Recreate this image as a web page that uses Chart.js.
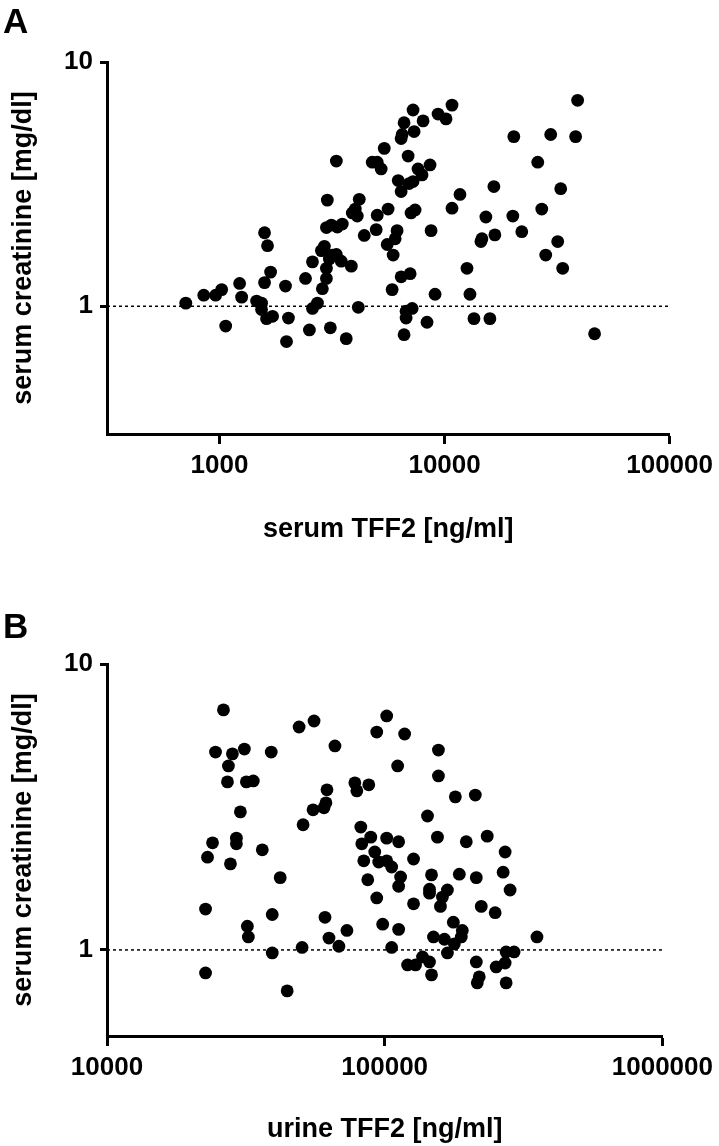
<!DOCTYPE html>
<html>
<head>
<meta charset="utf-8">
<script src="https://cdn.jsdelivr.net/npm/chart.js@4.4.0/dist/chart.umd.min.js"></script>
<style>
  body {
    margin: 0;
    background: #fff;
    width: 719px;
    height: 1146px;
    position: relative;
    overflow: hidden;
    font-family: "Liberation Sans", Arial, sans-serif;
  }
  canvas { position: absolute; left: 0; }
  .letter {
    position: absolute;
    left: 3px;
    font-weight: bold;
    font-size: 35px;
    line-height: 1;
    z-index: 2;
  }
</style>
</head>
<body>
<div class="letter" style="top: 3px">A</div>
<canvas id="chartA" style="top: 0" width="719" height="546"></canvas>
<div class="letter" style="top: 608px">B</div>
<canvas id="chartB" style="top: 565px" width="719" height="581"></canvas>

<script>
// panel A: serum TFF2 vs serum creatinine
var serumTffA = [
  708, 851, 961, 1022, 1228, 1254, 1065, 1461, 1537, 1537,
  1585, 1585, 1634, 1686, 1720, 1618, 1964, 2024, 1984, 2410,
  2588, 2508, 2723, 2588, 2864, 2985, 2985, 2836, 2924, 3076,
  3172, 3304, 3475, 2985, 3140, 3339, 3512, 3013, 3304, 3108,
  3656, 3850, 3890, 4093, 4178, 4010,
  4136, 4396, 4770, 5020, 5227, 4967, 5020, 5395, 5559, 5611,
  5848, 5909, 6033, 6152, 6223, 6412, 6412, 6479, 6412, 6607,
  6607, 6745, 6745, 6887, 6958, 7031, 7096, 7178, 7244, 7244,
  7322, 7396, 7621, 7943, 8026, 8356, 8619, 8710, 9072, 9354,
  10148, 10790, 10790, 11706, 12578, 12966, 13510, 14505, 14655, 15260,
  15900, 16560, 16730, 20100, 20310, 22030, 25940, 27030, 28150, 29620,
  31820, 32810, 33480, 38220, 39010, 46400,
];
var creatA = [
  1.03, 1.11, 1.11, 1.17, 1.24, 1.09, 0.83, 1.05, 1.03, 0.97,
  1.25, 2.0, 1.77, 1.38, 0.91, 0.89, 1.21, 0.895, 0.717, 1.3,
  1.52, 0.8, 1.03, 0.98, 1.18, 1.3, 1.43, 1.69, 1.76, 1.56,
  1.62, 1.63, 1.53, 2.1, 2.15, 2.11, 2.17, 2.72, 3.93, 0.816,
  0.737, 1.46, 2.41, 2.34, 2.74, 2.5,
  0.99, 1.95, 3.89, 3.89, 3.65, 2.06, 2.36, 4.43, 1.79, 2.5,
  1.17, 1.62, 1.89, 2.04, 3.27, 2.95, 1.32, 5.05, 4.86, 5.64,
  0.765, 0.955, 0.895, 4.12, 3.18, 1.36, 2.41, 0.98, 6.36, 3.24,
  5.19, 2.48, 3.65, 3.45, 5.74, 0.86, 3.79, 2.04, 1.12, 6.12,
  5.85, 6.66, 2.52, 2.87, 1.43, 1.12, 0.89, 1.84, 1.89, 2.32,
  0.89, 3.09, 1.96, 2.34, 4.95, 2.02, 3.89, 2.5, 1.62, 5.05,
  1.84, 3.03, 1.43, 4.95, 6.97, 0.772,
];
var xTicksA = [1000, 10000, 100000];

// panel B: urine TFF2 vs serum creatinine
var urineTffB = [
  26270, 49180, 55670, 66200, 24590, 28290, 31240, 39030, 27370, 27150,
  31760, 33640, 61960, 78070, 79360, 55210, 60440, 61440, 30220, 50830,
  23990, 29240, 29240, 36240, 23010, 27830, 42050, 101670, 93620, 117970,
  156150, 111330, 156150, 87630, 179640, 211990, 142610, 82030, 89080, 101670,
  112260, 154880, 196680, 233980, 82710, 92090, 95170, 101670, 105950, 84080,
  127030, 271460, 86900, 114110, 112260, 147430, 185650, 213730, 267000, 282880,
  145000, 145000, 168210, 161410, 158760, 93620, 127030, 222700, 249890, 73100,
  98360, 112260, 176690, 190310, 188740, 178160, 149860, 164100, 353430, 68410,
  105950, 168210, 136850, 145000, 120910, 129150, 213730, 273720, 292350, 251970,
  271460, 22640, 22640, 32020, 32280, 39360, 39360, 44550, 50410, 60950,
  63000, 147430, 219040, 215440, 273720,
];
var creatB = [
  6.91, 6.02, 6.32, 5.17, 4.92, 4.85, 5.04, 4.92, 4.4, 3.87,
  3.87, 3.9, 3.63, 3.84, 3.6, 3.09, 3.14, 3.27, 3.04, 2.74,
  2.37, 2.46, 2.35, 2.24, 2.11, 2.0, 1.79, 6.58, 5.78, 5.69,
  5.0, 4.4, 4.06, 3.78, 3.43, 3.48, 2.94, 2.69, 2.48, 2.46,
  2.39, 2.48, 2.39, 2.5, 2.35, 2.2, 2.03, 2.05, 1.95, 2.05,
  2.08, 2.2, 1.76, 1.8, 1.67, 1.83, 1.84, 1.79, 1.87, 1.62,
  1.63, 1.58, 1.62, 1.53, 1.42, 1.52, 1.45, 1.42, 1.35, 1.17,
  1.23, 1.18, 1.25, 1.17, 1.11, 1.05, 1.11, 1.09, 1.11, 1.03,
  1.02, 0.976, 0.945, 0.908, 0.886, 0.886, 0.908, 0.984, 0.984, 0.872,
  0.9, 1.39, 0.831, 1.21, 1.11, 1.33, 0.976, 0.719, 1.02, 1.3,
  1.1, 0.818, 0.805, 0.767, 0.767,
];
var xTicksB = [10000, 100000, 1000000];

// shared y axis ticks and the dotted reference at 1 mg/dl
var yTicks = [1, 10];
var refLevel = 1;

var fontFamily = "'Liberation Sans', Arial, sans-serif";
var tickFont = { family: fontFamily, size: 26, weight: "bold" };
var titleFont = { family: fontFamily, size: 27, weight: "bold" };

//to draw one scatter panel
const drawPanel = (id, xVals, yVals, lim, xTicks, xTitle, box) => {
  var points = xVals.map(function (x, i) {
    return { x: x, y: yVals[i] };
  });

  var ctx = document.getElementById(id).getContext("2d");

  var chart = new Chart(ctx, {
    type: "scatter",
    data: {
      datasets: [
        {
          type: "scatter",
          data: points,
          backgroundColor: "#000",
          borderWidth: 0,
          pointRadius: 6.4,
          order: 1,
        },
        {
          type: "line",
          data: [
            { x: lim.xMin, y: refLevel },
            { x: lim.xMax, y: refLevel },
          ],
          borderColor: "#000",
          borderWidth: 1.5,
          borderDash: [3, 3],
          pointRadius: 0,
          order: 2,
        },
      ],
    },
    options: {
      responsive: false,
      animation: false,
      devicePixelRatio: 1,
      layout: {
        padding: { top: box.top, right: box.right, left: 0, bottom: 0 },
      },
      plugins: {
        legend: { display: false },
        tooltip: { enabled: false },
      },
      scales: {
        x: {
          type: "logarithmic",
          position: "bottom",
          min: lim.xMin,
          max: lim.xMax,
          afterBuildTicks: (s) => {
            s.ticks = xTicks.map((v) => ({ value: v }));
          },
          afterFit: (s) => {
            s.height = box.xAxis;
          },
          ticks: {
            font: tickFont,
            color: "#000",
            padding: 6,
            autoSkip: false,
            maxRotation: 0,
            callback: (v) => String(v),
          },
          grid: {
            drawOnChartArea: false,
            drawTicks: true,
            tickLength: 10,
            tickWidth: 3,
            tickColor: "#000",
          },
          border: { display: true, width: 3, color: "#000" },
          title: {
            display: true,
            text: xTitle,
            font: titleFont,
            color: "#000",
            padding: { top: 0, bottom: 0 },
          },
        },
        y: {
          type: "logarithmic",
          min: lim.yMin,
          max: lim.yMax,
          afterBuildTicks: (s) => {
            s.ticks = yTicks.map((v) => ({ value: v }));
          },
          afterFit: (s) => {
            s.width = 107;
          },
          ticks: {
            font: tickFont,
            color: "#000",
            padding: 7,
            autoSkip: false,
            callback: (v) => String(v),
          },
          grid: {
            drawOnChartArea: false,
            drawTicks: true,
            tickLength: 7,
            tickWidth: 3,
            tickColor: "#000",
          },
          border: { display: true, width: 3, color: "#000" },
          title: {
            display: true,
            text: "serum creatinine [mg/dl]",
            font: titleFont,
            color: "#000",
            padding: { top: 7, bottom: 0 },
          },
        },
      },
    },
  });
  return chart;
};

drawPanel(
  "chartA",
  serumTffA,
  creatA,
  { xMin: 316.2, xMax: 100000, yMin: 0.3162, yMax: 10 },
  xTicksA,
  "serum TFF2 [ng/ml]",
  { top: 62, right: 47, xAxis: 112 }
);

drawPanel(
  "chartB",
  urineTffB,
  creatB,
  { xMin: 10000, xMax: 1000000, yMin: 0.5, yMax: 10 },
  xTicksB,
  "urine TFF2 [ng/ml]",
  { top: 99, right: 54, xAxis: 110 }
);
</script>
</body>
</html>
